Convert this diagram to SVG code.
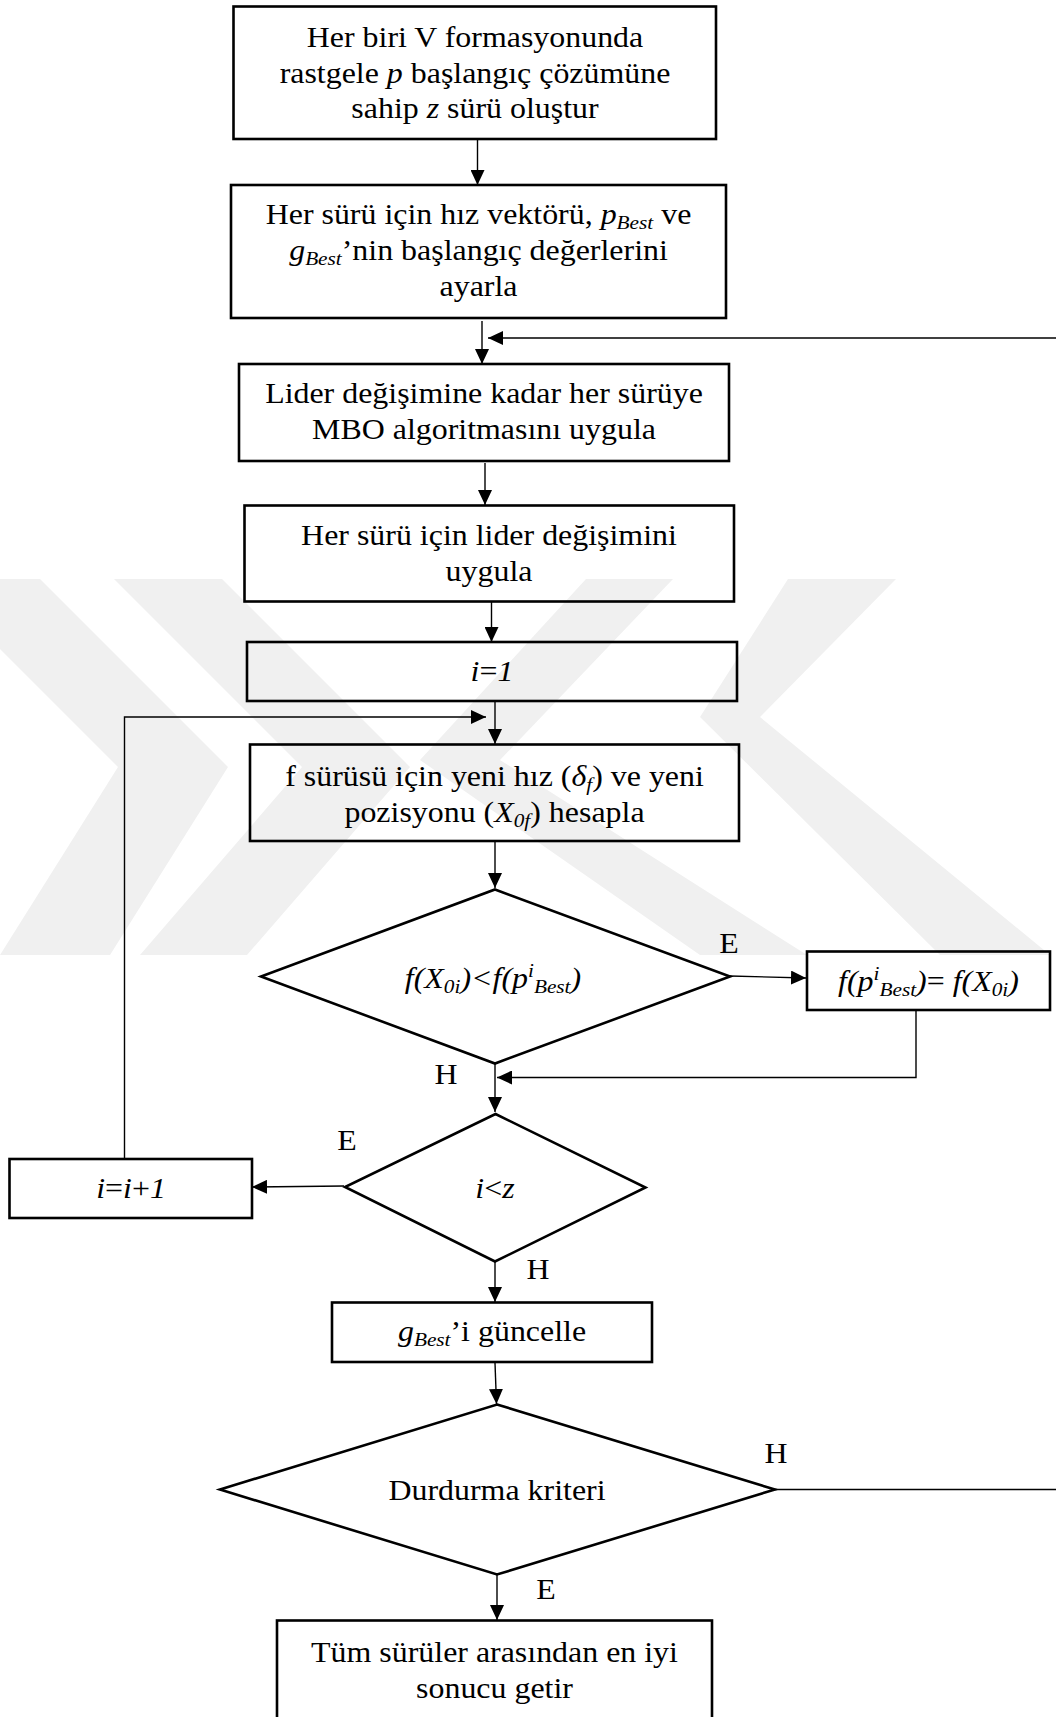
<svg xmlns="http://www.w3.org/2000/svg" width="1056" height="1717" viewBox="0 0 1056 1717">
  <style>
    .box { fill: none; stroke: #000; stroke-width: 2.6; }
    .dec { fill: none; stroke: #000; stroke-width: 2.6; stroke-linejoin: miter; }
    .edge { fill: none; stroke: #000; stroke-width: 1.4; }
    .arrow { fill: none; stroke: #000; stroke-width: 1.4; marker-end: url(#head); }
    text { font-family: "Liberation Serif", "Times New Roman", serif; font-size: 28.5px; fill: #000; text-anchor: middle; }
    .it { font-style: italic; }
    .wm { fill: #f0f0f0; }
  </style>
  <defs>
    <marker id="head" markerUnits="userSpaceOnUse" markerWidth="16" markerHeight="14" refX="15" refY="7" orient="auto">
      <path d="M0,0 L15,7 L0,14 Z" fill="#000"/>
    </marker>
  </defs>
  <rect width="1056" height="1717" fill="#fff"/>

  <!-- background emblem -->
  <g id="emblem">
    <polygon class="wm" points="-70,579 40,579 228,767 110,955 0,955 118,767"/>
    <polygon class="wm" points="114,579 222,579 410,767 247,955 140,955 302,767"/>
    <polygon class="wm" points="788,579 896,579 760,717 1050,955 940,955 700,717"/>
    <polygon class="wm" points="586,579 673,579 500,760 807,955 700,955 420,760"/>
  </g>

  <g id="connectors">
    <line class="arrow" x1="477.5" y1="140" x2="477.5" y2="185"/>
    <line class="arrow" x1="482" y1="321" x2="482" y2="364"/>
    <line class="arrow" x1="1060" y1="338" x2="488" y2="338"/>
    <line class="arrow" x1="485" y1="463" x2="485" y2="505"/>
    <line class="arrow" x1="491.5" y1="602" x2="491.5" y2="642"/>
    <line class="arrow" x1="495" y1="701" x2="495" y2="744"/>
    <polyline class="arrow" points="124.5,1159 124.5,717 486,717"/>
    <line class="arrow" x1="495" y1="842" x2="495" y2="888"/>
    <line class="arrow" x1="730" y1="976" x2="806" y2="978"/>
    <polyline class="arrow" points="916,1010 916,1077.5 497,1077.5"/>
    <line class="arrow" x1="495" y1="1064" x2="495" y2="1112"/>
    <line class="arrow" x1="344" y1="1186" x2="252" y2="1187"/>
    <line class="arrow" x1="495" y1="1262" x2="495" y2="1302"/>
    <line class="arrow" x1="495" y1="1363" x2="496.5" y2="1404"/>
    <line class="edge" x1="775" y1="1489.5" x2="1060" y2="1489.5"/>
    <line class="arrow" x1="497" y1="1575" x2="497" y2="1620"/>
  </g>

  <g id="create-swarms">
    <rect class="box" x="233.5" y="6.5" width="482.5" height="132.5"/>
    <g transform="translate(475 0) scale(1.12 1)">
      <text x="0" y="47">Her biri V formasyonunda</text>
      <text x="0" y="83">rastgele <tspan class="it">p</tspan> başlangıç çözümüne</text>
      <text x="0" y="118">sahip <tspan class="it">z</tspan> sürü oluştur</text>
    </g>
  </g>

  <g id="init-values">
    <rect class="box" x="231" y="185" width="495" height="133"/>
    <g transform="translate(478.5 0) scale(1.12 1)">
      <text x="0" y="224">Her sürü için hız vektörü, <tspan class="it">p</tspan><tspan class="it" font-size="19" dy="5">Best</tspan><tspan dy="-5"> ve</tspan></text>
      <text x="0" y="260"><tspan class="it">g</tspan><tspan class="it" font-size="19" dy="5">Best</tspan><tspan dy="-5">’nin başlangıç değerlerini</tspan></text>
      <text x="0" y="296">ayarla</text>
    </g>
  </g>

  <g id="apply-mbo">
    <rect class="box" x="239" y="364" width="490" height="97"/>
    <g transform="translate(484 0) scale(1.12 1)">
      <text x="0" y="403">Lider değişimine kadar her sürüye</text>
      <text x="0" y="439">MBO algoritmasını uygula</text>
    </g>
  </g>

  <g id="leader-change">
    <rect class="box" x="244.5" y="505.5" width="489.5" height="96"/>
    <g transform="translate(489 0) scale(1.12 1)">
      <text x="0" y="545">Her sürü için lider değişimini</text>
      <text x="0" y="581">uygula</text>
    </g>
  </g>

  <g id="init-i">
    <rect class="box" x="247" y="642" width="490" height="59"/>
    <g transform="translate(492 0) scale(1.12 1)">
      <text x="0" y="681"><tspan class="it">i</tspan>=<tspan class="it">1</tspan></text>
    </g>
  </g>

  <g id="compute-velocity">
    <rect class="box" x="250" y="744.5" width="489" height="96.5"/>
    <g transform="translate(494.5 0) scale(1.12 1)">
      <text x="0" y="786">f sürüsü için yeni hız (<tspan class="it">δ</tspan><tspan class="it" font-size="19" dy="5">f</tspan><tspan dy="-5">) ve yeni</tspan></text>
      <text x="0" y="822">pozisyonu (<tspan class="it">X</tspan><tspan class="it" font-size="19" dy="5">0f</tspan><tspan dy="-5">) hesapla</tspan></text>
    </g>
  </g>

  <g id="compare-pbest">
    <polygon class="dec" points="495,889.5 730,976.5 495,1063.5 261,976.5"/>
    <g transform="translate(493 0) scale(1.12 1)">
      <text x="0" y="988" class="it">f(X<tspan font-size="19" dy="5">0i</tspan><tspan dy="-5">)&lt;f(p</tspan><tspan font-size="19" dy="-11">i</tspan><tspan font-size="19" dy="16">Best</tspan><tspan dy="-5">)</tspan></text>
    </g>
    <g transform="translate(729 0) scale(1.12 1)"><text x="0" y="953">E</text></g>
    <g transform="translate(446 0) scale(1.12 1)"><text x="0" y="1084">H</text></g>
  </g>

  <g id="update-pbest">
    <rect class="box" x="807" y="951.5" width="243" height="58.5"/>
    <g transform="translate(928.5 0) scale(1.12 1)">
      <text x="0" y="991" class="it">f(p<tspan font-size="19" dy="-11">i</tspan><tspan font-size="19" dy="16">Best</tspan><tspan dy="-5">)</tspan><tspan font-style="normal">=</tspan> f(X<tspan font-size="19" dy="5">0i</tspan><tspan dy="-5">)</tspan></text>
    </g>
  </g>

  <g id="check-i">
    <polygon class="dec" points="495.5,1114 645.5,1187.5 495,1261.5 345,1187"/>
    <g transform="translate(495 0) scale(1.12 1)">
      <text x="0" y="1198"><tspan class="it">i</tspan>&lt;<tspan class="it">z</tspan></text>
    </g>
    <g transform="translate(347 0) scale(1.12 1)"><text x="0" y="1150">E</text></g>
    <g transform="translate(538 0) scale(1.12 1)"><text x="0" y="1279">H</text></g>
  </g>

  <g id="increment-i">
    <rect class="box" x="9.5" y="1159" width="242.5" height="59"/>
    <g transform="translate(131 0) scale(1.12 1)">
      <text x="0" y="1198"><tspan class="it">i</tspan>=<tspan class="it">i</tspan>+<tspan class="it">1</tspan></text>
    </g>
  </g>

  <g id="update-gbest">
    <rect class="box" x="332" y="1302.5" width="320" height="59.5"/>
    <g transform="translate(492 0) scale(1.12 1)">
      <text x="0" y="1341"><tspan class="it">g</tspan><tspan class="it" font-size="19" dy="5">Best</tspan><tspan dy="-5">’i güncelle</tspan></text>
    </g>
  </g>

  <g id="stop-criterion">
    <polygon class="dec" points="497,1404.5 775,1489.5 497,1574.5 220,1489.5"/>
    <g transform="translate(497 0) scale(1.12 1)">
      <text x="0" y="1500">Durdurma kriteri</text>
    </g>
    <g transform="translate(776 0) scale(1.12 1)"><text x="0" y="1463">H</text></g>
    <g transform="translate(546 0) scale(1.12 1)"><text x="0" y="1599">E</text></g>
  </g>

  <g id="best-result">
    <rect class="box" x="277" y="1620.5" width="435" height="110"/>
    <g transform="translate(494.5 0) scale(1.12 1)">
      <text x="0" y="1662">Tüm sürüler arasından en iyi</text>
      <text x="0" y="1698">sonucu getir</text>
    </g>
  </g>
</svg>
